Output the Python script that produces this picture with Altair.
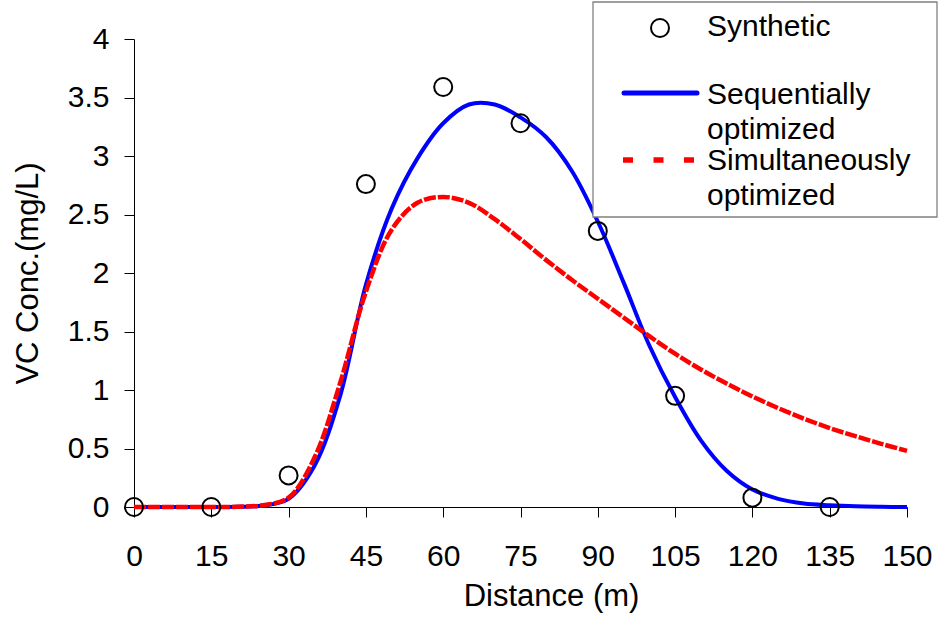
import altair as alt
import pandas as pd

# ---- data ----
dist_obs = [0, 15, 30, 45, 60, 75, 90, 105, 120, 135]
conc_obs = [0.0, 0.0, 0.27, 2.76, 3.59, 3.28, 2.36, 0.95, 0.08, 0.0]

dist_curve = [0, 5, 10, 15, 20, 25, 30, 35, 40, 45, 50, 55, 60, 65, 70, 75,
              80, 85, 90, 95, 100, 105, 110, 115, 120, 125, 130, 135, 140, 145, 150]
seq_conc = [0.0, 0.0, 0.0, 0.0, 0.002, 0.012, 0.07, 0.35, 0.95, 1.9, 2.55, 2.98,
            3.28, 3.44, 3.44, 3.33, 3.16, 2.87, 2.44, 1.92, 1.38, 0.94, 0.57, 0.31,
            0.15, 0.07, 0.03, 0.015, 0.006, 0.002, 0.0]
sim_conc = [0.0, 0.0, 0.0, 0.0, 0.002, 0.015, 0.08, 0.42, 1.06, 1.84, 2.37, 2.6,
            2.65, 2.6, 2.46, 2.29, 2.11, 1.94, 1.78, 1.62, 1.46, 1.31, 1.175, 1.055,
            0.945, 0.845, 0.755, 0.675, 0.605, 0.54, 0.48]

x_ticks = [0, 15, 30, 45, 60, 75, 90, 105, 120, 135, 150]
y_ticks = [0, 0.5, 1, 1.5, 2, 2.5, 3, 3.5, 4]

legend_labels = ["Synthetic", "Sequentially", "optimized", "Simultaneously", "optimized"]

FONT = "Liberation Sans"

obs = pd.DataFrame({"d": dist_obs, "c": conc_obs})
curves = pd.DataFrame({"d": dist_curve, "seq": seq_conc, "sim": sim_conc})

xs = alt.Scale(domain=[0, 150], nice=False)
ys = alt.Scale(domain=[0, 4], nice=False)

x_axis = alt.Axis(values=x_ticks, format="d", title="Distance (m)",
                  labelFontSize=30, labelFont=FONT, labelColor="black",
                  tickColor="black", tickSize=10, domainColor="black",
                  labelPadding=24, grid=False, labelFlush=False,
                  labelOverlap=False,
                  titleFontSize=31, titleFont=FONT, titleFontWeight="normal",
                  titleColor="black", titleX=417, titleY=98,
                  titleBaseline="alphabetic", titleAlign="center")
y_axis = alt.Axis(values=y_ticks, format="~g", title="VC Conc.(mg/L)",
                  labelFontSize=30, labelFont=FONT, labelColor="black",
                  tickColor="black", tickSize=10, domainColor="black",
                  labelPadding=15, grid=False, labelFlush=False,
                  labelOverlap=False,
                  titleFontSize=31, titleFont=FONT, titleFontWeight="normal",
                  titleColor="black", titleX=-106, titleY=234, titleAngle=-90,
                  titleBaseline="middle", titleAlign="center")

blue = alt.Chart(curves).mark_line(color="#0000FF", strokeWidth=4,
                                   interpolate="catmull-rom").encode(
    x=alt.X("d:Q", scale=xs, axis=x_axis),
    y=alt.Y("seq:Q", scale=ys, axis=y_axis),
)
red = alt.Chart(curves).mark_line(color="#FF0000", strokeWidth=4.5,
                                  strokeDash=[12, 2],
                                  interpolate="catmull-rom").encode(
    x=alt.X("d:Q", scale=xs),
    y=alt.Y("sim:Q", scale=ys),
)
pts = alt.Chart(obs).mark_point(shape="circle", filled=False, color="black",
                                strokeWidth=2, size=324, opacity=1).encode(
    x=alt.X("d:Q", scale=xs),
    y=alt.Y("c:Q", scale=ys),
)

one = pd.DataFrame({"a": [0]})
box = alt.Chart(one).mark_rect(fill="white", stroke="#808080",
                               strokeWidth=1.3).encode(
    x=alt.value(459), x2=alt.value(803), y=alt.value(-37), y2=alt.value(178))
leg_circle = alt.Chart(one).mark_point(shape="circle", filled=False,
                                       color="black", strokeWidth=2, size=324,
                                       opacity=1).encode(
    x=alt.value(526), y=alt.value(-11))
leg_blue = alt.Chart(one).mark_rule(color="#0000FF", strokeWidth=5,
                                    strokeCap="round").encode(
    x=alt.value(490), x2=alt.value(563), y=alt.value(54))
leg_red = alt.Chart(one).mark_rule(color="#FF0000", strokeWidth=5.5,
                                   strokeDash=[10, 20.5]).encode(
    x=alt.value(489), x2=alt.value(561), y=alt.value(121))

text_y = [-3, 65, 100, 131, 166]
texts = []
for lab, ty in zip(legend_labels, text_y):
    texts.append(alt.Chart(one).mark_text(align="left", baseline="alphabetic",
                                          fontSize=30, font=FONT,
                                          color="black").encode(
        x=alt.value(573), y=alt.value(ty), text=alt.value(lab)))

chart = alt.layer(blue, red, pts, box, leg_circle, leg_blue, leg_red, *texts).properties(
    width=773, height=468,
    padding={"left": 134, "top": 39, "right": 32, "bottom": 110},
    autosize=alt.AutoSizeParams(type="none"),
    background="white",
).configure_view(stroke=None).configure_axis(domainWidth=1, tickWidth=1)

chart.save("out.html", embed_options={"renderer": "svg", "actions": False})
